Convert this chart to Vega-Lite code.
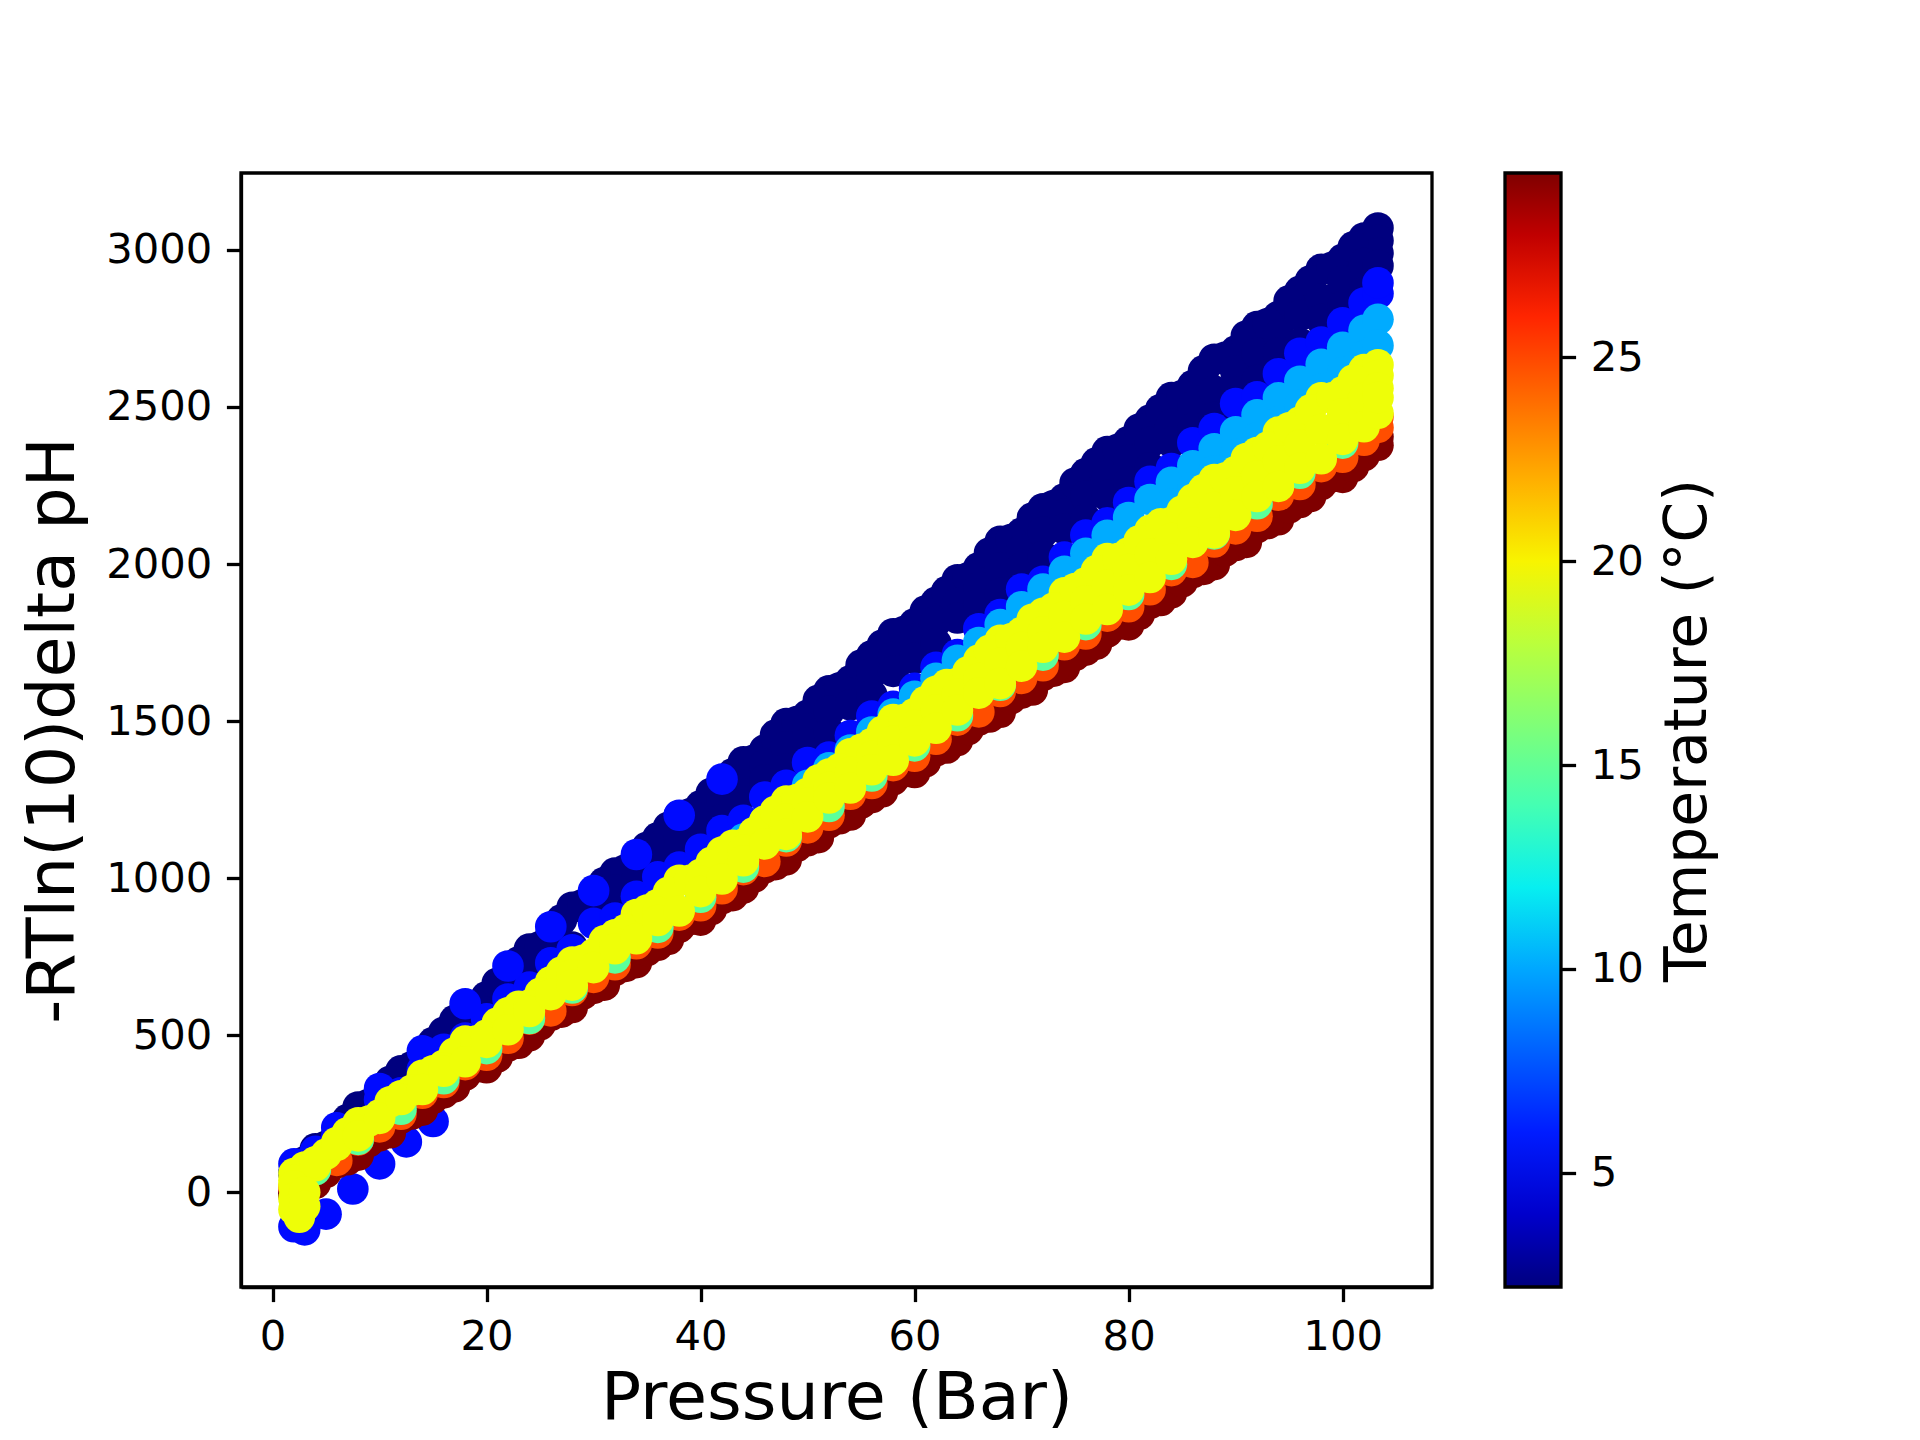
{
  "$schema": "https://vega.github.io/schema/vega-lite/v6.json",
  "background": "white",
  "autosize": {"type": "none"},
  "padding": {"left": 241, "top": 173, "right": 488, "bottom": 153},
  "width": 1191,
  "height": 1114,
  "data": {
    "values": [
      {"P":2,"V":60,"T":2.2},{"P":4,"V":138,"T":2.2},{"P":6,"V":181,"T":2.2},{"P":8,"V":271,"T":2.2},{"P":10,"V":302,"T":2.2},{"P":12,"V":386,"T":2.2},{"P":14,"V":424,"T":2.2},{"P":16,"V":509,"T":2.2},{"P":18,"V":585,"T":2.2},{"P":20,"V":622,"T":2.2},{"P":22,"V":696,"T":2.2},{"P":24,"V":774,"T":2.2},{"P":26,"V":817,"T":2.2},{"P":28,"V":907,"T":2.2},{"P":30,"V":938,"T":2.2},{"P":32,"V":1016,"T":2.2},{"P":34,"V":1048,"T":2.2},{"P":36,"V":1128,"T":2.2},{"P":38,"V":1198,"T":2.2},{"P":40,"V":1230,"T":2.2},{"P":42,"V":1298,"T":2.2},{"P":44,"V":1370,"T":2.2},{"P":46,"V":1408,"T":2.2},{"P":48,"V":1492,"T":2.2},{"P":50,"V":1518,"T":2.2},{"P":52,"V":1596,"T":2.2},{"P":54,"V":1628,"T":2.2},{"P":56,"V":1708,"T":2.2},{"P":58,"V":1778,"T":2.2},{"P":60,"V":1810,"T":2.2},{"P":62,"V":1878,"T":2.2},{"P":64,"V":1950,"T":2.2},{"P":66,"V":1988,"T":2.2},{"P":68,"V":2072,"T":2.2},{"P":70,"V":2098,"T":2.2},{"P":72,"V":2176,"T":2.2},{"P":74,"V":2208,"T":2.2},{"P":76,"V":2288,"T":2.2},{"P":78,"V":2358,"T":2.2},{"P":80,"V":2390,"T":2.2},{"P":82,"V":2458,"T":2.2},{"P":84,"V":2530,"T":2.2},{"P":86,"V":2568,"T":2.2},{"P":88,"V":2652,"T":2.2},{"P":90,"V":2678,"T":2.2},{"P":92,"V":2756,"T":2.2},{"P":94,"V":2788,"T":2.2},{"P":96,"V":2868,"T":2.2},{"P":98,"V":2938,"T":2.2},{"P":100,"V":2970,"T":2.2},{"P":102,"V":3038,"T":2.2},{"P":103.3,"V":3070,"T":2.2},{"P":103.3,"V":3030,"T":2.2},{"P":103.3,"V":2990,"T":2.2},
      {"P":3,"V":97,"T":2.2},{"P":5,"V":146,"T":2.2},{"P":7,"V":231,"T":2.2},{"P":9,"V":280,"T":2.2},{"P":11,"V":353,"T":2.2},{"P":13,"V":399,"T":2.2},{"P":15,"V":476,"T":2.2},{"P":17,"V":546,"T":2.2},{"P":19,"V":595,"T":2.2},{"P":21,"V":665,"T":2.2},{"P":23,"V":733,"T":2.2},{"P":25,"V":782,"T":2.2},{"P":27,"V":867,"T":2.2},{"P":29,"V":916,"T":2.2},{"P":31,"V":986,"T":2.2},{"P":33,"V":1026,"T":2.2},{"P":35,"V":1098,"T":2.2},{"P":37,"V":1162,"T":2.2},{"P":39,"V":1205,"T":2.2},{"P":41,"V":1270,"T":2.2},{"P":43,"V":1332,"T":2.2},{"P":45,"V":1376,"T":2.2},{"P":47,"V":1455,"T":2.2},{"P":49,"V":1498,"T":2.2},{"P":51,"V":1566,"T":2.2},{"P":53,"V":1606,"T":2.2},{"P":55,"V":1678,"T":2.2},{"P":57,"V":1742,"T":2.2},{"P":59,"V":1785,"T":2.2},{"P":61,"V":1850,"T":2.2},{"P":63,"V":1912,"T":2.2},{"P":65,"V":1956,"T":2.2},{"P":67,"V":2035,"T":2.2},{"P":69,"V":2078,"T":2.2},{"P":71,"V":2146,"T":2.2},{"P":73,"V":2186,"T":2.2},{"P":75,"V":2258,"T":2.2},{"P":77,"V":2322,"T":2.2},{"P":79,"V":2365,"T":2.2},{"P":81,"V":2430,"T":2.2},{"P":83,"V":2492,"T":2.2},{"P":85,"V":2536,"T":2.2},{"P":87,"V":2615,"T":2.2},{"P":89,"V":2658,"T":2.2},{"P":91,"V":2726,"T":2.2},{"P":93,"V":2766,"T":2.2},{"P":95,"V":2838,"T":2.2},{"P":97,"V":2902,"T":2.2},{"P":99,"V":2945,"T":2.2},{"P":101,"V":3010,"T":2.2},
      {"P":30,"V":905,"T":2.2},{"P":32,"V":962,"T":2.2},{"P":34,"V":1025,"T":2.2},{"P":36,"V":1076,"T":2.2},{"P":38,"V":1133,"T":2.2},{"P":40,"V":1190,"T":2.2},{"P":42,"V":1247,"T":2.2},{"P":44,"V":1296,"T":2.2},{"P":46,"V":1361,"T":2.2},{"P":48,"V":1418,"T":2.2},{"P":50,"V":1475,"T":2.2},{"P":52,"V":1532,"T":2.2},{"P":54,"V":1589,"T":2.2},{"P":56,"V":1652,"T":2.2},{"P":58,"V":1703,"T":2.2},{"P":60,"V":1760,"T":2.2},{"P":62,"V":1817,"T":2.2},{"P":64,"V":1874,"T":2.2},{"P":66,"V":1925,"T":2.2},{"P":68,"V":1988,"T":2.2},{"P":70,"V":2045,"T":2.2},{"P":72,"V":2102,"T":2.2},{"P":74,"V":2159,"T":2.2},{"P":76,"V":2216,"T":2.2},{"P":78,"V":2280,"T":2.2},{"P":80,"V":2330,"T":2.2},{"P":82,"V":2387,"T":2.2},{"P":84,"V":2444,"T":2.2},{"P":86,"V":2501,"T":2.2},{"P":88,"V":2551,"T":2.2},{"P":90,"V":2615,"T":2.2},{"P":92,"V":2672,"T":2.2},{"P":94,"V":2729,"T":2.2},{"P":96,"V":2792,"T":2.2},{"P":98,"V":2843,"T":2.2},{"P":100,"V":2900,"T":2.2},{"P":102,"V":2957,"T":2.2},
      {"P":2,"V":-10,"T":2.2},{"P":4,"V":77,"T":2.2},{"P":6,"V":127,"T":2.2},{"P":8,"V":166,"T":2.2},{"P":10,"V":254,"T":2.2},{"P":12,"V":295,"T":2.2},{"P":14,"V":388,"T":2.2},{"P":16,"V":424,"T":2.2},{"P":18,"V":505,"T":2.2},{"P":20,"V":553,"T":2.2},{"P":22,"V":604,"T":2.2},{"P":24,"V":691,"T":2.2},{"P":26,"V":741,"T":2.2},{"P":28,"V":780,"T":2.2},{"P":30,"V":868,"T":2.2},{"P":32,"V":904,"T":2.2},{"P":34,"V":992,"T":2.2},{"P":36,"V":1022,"T":2.2},{"P":38,"V":1098,"T":2.2},{"P":40,"V":1140,"T":2.2},{"P":42,"V":1186,"T":2.2},{"P":44,"V":1268,"T":2.2},{"P":46,"V":1312,"T":2.2},{"P":48,"V":1346,"T":2.2},{"P":50,"V":1428,"T":2.2},{"P":52,"V":1464,"T":2.2},{"P":54,"V":1552,"T":2.2},{"P":56,"V":1582,"T":2.2},{"P":58,"V":1658,"T":2.2},{"P":60,"V":1700,"T":2.2},{"P":62,"V":1746,"T":2.2},{"P":64,"V":1828,"T":2.2},{"P":66,"V":1872,"T":2.2},{"P":68,"V":1906,"T":2.2},{"P":70,"V":1988,"T":2.2},{"P":72,"V":2024,"T":2.2},{"P":74,"V":2112,"T":2.2},{"P":76,"V":2142,"T":2.2},{"P":78,"V":2218,"T":2.2},{"P":80,"V":2260,"T":2.2},{"P":82,"V":2306,"T":2.2},{"P":84,"V":2388,"T":2.2},{"P":86,"V":2432,"T":2.2},{"P":88,"V":2466,"T":2.2},{"P":90,"V":2548,"T":2.2},{"P":92,"V":2584,"T":2.2},{"P":94,"V":2672,"T":2.2},{"P":96,"V":2702,"T":2.2},{"P":98,"V":2778,"T":2.2},{"P":100,"V":2820,"T":2.2},{"P":102,"V":2866,"T":2.2},{"P":103.3,"V":2950,"T":2.2},
      {"P":2,"V":61,"T":5.5},{"P":4,"V":99,"T":5.5},{"P":6,"V":176,"T":5.5},{"P":8,"V":218,"T":5.5},{"P":10,"V":295,"T":5.5},{"P":12,"V":316,"T":5.5},{"P":14,"V":390,"T":5.5},{"P":16,"V":455,"T":5.5},{"P":18,"V":491,"T":5.5},{"P":20,"V":552,"T":5.5},{"P":22,"V":615,"T":5.5},{"P":24,"V":653,"T":5.5},{"P":26,"V":730,"T":5.5},{"P":28,"V":772,"T":5.5},{"P":30,"V":856,"T":5.5},{"P":32,"V":873,"T":5.5},{"P":34,"V":942,"T":5.5},{"P":36,"V":1004,"T":5.5},{"P":38,"V":1035,"T":5.5},{"P":40,"V":1092,"T":5.5},{"P":42,"V":1151,"T":5.5},{"P":44,"V":1184,"T":5.5},{"P":46,"V":1258,"T":5.5},{"P":48,"V":1295,"T":5.5},{"P":50,"V":1368,"T":5.5},{"P":52,"V":1385,"T":5.5},{"P":54,"V":1454,"T":5.5},{"P":56,"V":1516,"T":5.5},{"P":58,"V":1547,"T":5.5},{"P":60,"V":1604,"T":5.5},{"P":62,"V":1671,"T":5.5},{"P":64,"V":1712,"T":5.5},{"P":66,"V":1794,"T":5.5},{"P":68,"V":1839,"T":5.5},{"P":70,"V":1920,"T":5.5},{"P":72,"V":1945,"T":5.5},{"P":74,"V":2022,"T":5.5},{"P":76,"V":2092,"T":5.5},{"P":78,"V":2131,"T":5.5},{"P":80,"V":2196,"T":5.5},{"P":82,"V":2263,"T":5.5},{"P":84,"V":2304,"T":5.5},{"P":86,"V":2386,"T":5.5},{"P":88,"V":2431,"T":5.5},{"P":90,"V":2511,"T":5.5},{"P":92,"V":2532,"T":5.5},{"P":94,"V":2606,"T":5.5},{"P":96,"V":2671,"T":5.5},{"P":98,"V":2707,"T":5.5},{"P":100,"V":2768,"T":5.5},{"P":102,"V":2831,"T":5.5},{"P":103.3,"V":2861,"T":5.5},{"P":103.3,"V":2895,"T":5.5},
      {"P":2,"V":90,"T":5.5},{"P":4,"V":130,"T":5.5},{"P":6,"V":205,"T":5.5},{"P":10,"V":330,"T":5.5},{"P":14,"V":450,"T":5.5},{"P":18,"V":600,"T":5.5},{"P":22,"V":720,"T":5.5},{"P":26,"V":845,"T":5.5},{"P":30,"V":960,"T":5.5},{"P":34,"V":1075,"T":5.5},{"P":38,"V":1200,"T":5.5},{"P":42,"V":1315,"T":5.5},
      {"P":2,"V":-110,"T":5.5},{"P":3,"V":-120,"T":5.5},{"P":5,"V":-70,"T":5.5},{"P":7.5,"V":10,"T":5.5},{"P":10,"V":90,"T":5.5},{"P":12.5,"V":160,"T":5.5},{"P":15,"V":225,"T":5.5},
      {"P":40,"V":1010,"T":10.1},{"P":42,"V":1067,"T":10.1},{"P":44,"V":1124,"T":10.1},{"P":46,"V":1181,"T":10.1},{"P":48,"V":1238,"T":10.1},{"P":50,"V":1295,"T":10.1},{"P":52,"V":1351,"T":10.1},{"P":54,"V":1408,"T":10.1},{"P":56,"V":1465,"T":10.1},{"P":58,"V":1522,"T":10.1},{"P":60,"V":1579,"T":10.1},{"P":62,"V":1636,"T":10.1},{"P":64,"V":1693,"T":10.1},{"P":66,"V":1750,"T":10.1},{"P":68,"V":1807,"T":10.1},{"P":70,"V":1864,"T":10.1},{"P":72,"V":1920,"T":10.1},{"P":74,"V":1977,"T":10.1},{"P":76,"V":2034,"T":10.1},{"P":78,"V":2091,"T":10.1},{"P":80,"V":2148,"T":10.1},{"P":82,"V":2205,"T":10.1},{"P":84,"V":2260,"T":10.1},{"P":86,"V":2313,"T":10.1},{"P":88,"V":2367,"T":10.1},{"P":90,"V":2421,"T":10.1},{"P":92,"V":2475,"T":10.1},{"P":94,"V":2529,"T":10.1},{"P":96,"V":2582,"T":10.1},{"P":98,"V":2636,"T":10.1},{"P":100,"V":2690,"T":10.1},{"P":102,"V":2744,"T":10.1},{"P":103.3,"V":2779,"T":10.1},
      {"P":40,"V":950,"T":10.1},{"P":44,"V":1064,"T":10.1},{"P":48,"V":1178,"T":10.1},{"P":52,"V":1291,"T":10.1},{"P":56,"V":1405,"T":10.1},{"P":60,"V":1519,"T":10.1},{"P":64,"V":1633,"T":10.1},{"P":68,"V":1747,"T":10.1},{"P":72,"V":1860,"T":10.1},{"P":76,"V":1974,"T":10.1},{"P":80,"V":2088,"T":10.1},{"P":84,"V":2192,"T":10.1},{"P":86,"V":2245,"T":10.1},{"P":88,"V":2297,"T":10.1},{"P":90,"V":2349,"T":10.1},{"P":92,"V":2401,"T":10.1},{"P":94,"V":2453,"T":10.1},{"P":96,"V":2506,"T":10.1},{"P":98,"V":2558,"T":10.1},{"P":100,"V":2610,"T":10.1},{"P":102,"V":2662,"T":10.1},{"P":103.3,"V":2696,"T":10.1},
      {"P":2,"V":-5,"T":29.52},{"P":4,"V":28,"T":29.52},{"P":6,"V":93,"T":29.52},{"P":8,"V":118,"T":29.52},{"P":10,"V":179,"T":29.52},{"P":12,"V":236,"T":29.52},{"P":14,"V":261,"T":29.52},{"P":16,"V":316,"T":29.52},{"P":18,"V":373,"T":29.52},{"P":20,"V":396,"T":29.52},{"P":22,"V":465,"T":29.52},{"P":24,"V":498,"T":29.52},{"P":26,"V":563,"T":29.52},{"P":28,"V":588,"T":29.52},{"P":30,"V":649,"T":29.52},{"P":32,"V":706,"T":29.52},{"P":34,"V":731,"T":29.52},{"P":36,"V":786,"T":29.52},{"P":38,"V":843,"T":29.52},{"P":40,"V":866,"T":29.52},{"P":42,"V":935,"T":29.52},{"P":44,"V":968,"T":29.52},{"P":46,"V":1033,"T":29.52},{"P":48,"V":1058,"T":29.52},{"P":50,"V":1119,"T":29.52},{"P":52,"V":1176,"T":29.52},{"P":54,"V":1201,"T":29.52},{"P":56,"V":1256,"T":29.52},{"P":58,"V":1313,"T":29.52},{"P":60,"V":1336,"T":29.52},{"P":62,"V":1405,"T":29.52},{"P":64,"V":1438,"T":29.52},{"P":66,"V":1503,"T":29.52},{"P":68,"V":1528,"T":29.52},{"P":70,"V":1589,"T":29.52},{"P":72,"V":1646,"T":29.52},{"P":74,"V":1671,"T":29.52},{"P":76,"V":1726,"T":29.52},{"P":78,"V":1783,"T":29.52},{"P":80,"V":1806,"T":29.52},{"P":82,"V":1875,"T":29.52},{"P":84,"V":1908,"T":29.52},{"P":86,"V":1973,"T":29.52},{"P":88,"V":1998,"T":29.52},{"P":90,"V":2059,"T":29.52},{"P":92,"V":2116,"T":29.52},{"P":94,"V":2141,"T":29.52},{"P":96,"V":2196,"T":29.52},{"P":98,"V":2253,"T":29.52},{"P":100,"V":2276,"T":29.52},{"P":102,"V":2345,"T":29.52},{"P":103.3,"V":2378,"T":29.52},{"P":103.3,"V":2405,"T":29.52},
      {"P":3,"V":4,"T":29.52},{"P":5,"V":63,"T":29.52},{"P":7,"V":103,"T":29.52},{"P":9,"V":161,"T":29.52},{"P":11,"V":189,"T":29.52},{"P":13,"V":249,"T":29.52},{"P":15,"V":299,"T":29.52},{"P":17,"V":335,"T":29.52},{"P":19,"V":398,"T":29.52},{"P":21,"V":430,"T":29.52},{"P":23,"V":474,"T":29.52},{"P":25,"V":533,"T":29.52},{"P":27,"V":573,"T":29.52},{"P":29,"V":631,"T":29.52},{"P":31,"V":659,"T":29.52},{"P":33,"V":719,"T":29.52},{"P":35,"V":769,"T":29.52},{"P":37,"V":805,"T":29.52},{"P":39,"V":868,"T":29.52},{"P":41,"V":900,"T":29.52},{"P":43,"V":944,"T":29.52},{"P":45,"V":1003,"T":29.52},{"P":47,"V":1043,"T":29.52},{"P":49,"V":1101,"T":29.52},{"P":51,"V":1129,"T":29.52},{"P":53,"V":1189,"T":29.52},{"P":55,"V":1239,"T":29.52},{"P":57,"V":1275,"T":29.52},{"P":59,"V":1338,"T":29.52},{"P":61,"V":1370,"T":29.52},{"P":63,"V":1414,"T":29.52},{"P":65,"V":1473,"T":29.52},{"P":67,"V":1513,"T":29.52},{"P":69,"V":1571,"T":29.52},{"P":71,"V":1599,"T":29.52},{"P":73,"V":1659,"T":29.52},{"P":75,"V":1709,"T":29.52},{"P":77,"V":1745,"T":29.52},{"P":79,"V":1808,"T":29.52},{"P":81,"V":1840,"T":29.52},{"P":83,"V":1884,"T":29.52},{"P":85,"V":1943,"T":29.52},{"P":87,"V":1983,"T":29.52},{"P":89,"V":2041,"T":29.52},{"P":91,"V":2069,"T":29.52},{"P":93,"V":2129,"T":29.52},{"P":95,"V":2179,"T":29.52},{"P":97,"V":2215,"T":29.52},{"P":99,"V":2278,"T":29.52},{"P":101,"V":2310,"T":29.52},
      {"P":2,"V":14,"T":24.8},{"P":4,"V":75,"T":24.8},{"P":6,"V":101,"T":24.8},{"P":8,"V":166,"T":24.8},{"P":10,"V":208,"T":24.8},{"P":12,"V":248,"T":24.8},{"P":14,"V":315,"T":24.8},{"P":16,"V":349,"T":24.8},{"P":18,"V":406,"T":24.8},{"P":20,"V":436,"T":24.8},{"P":22,"V":490,"T":24.8},{"P":24,"V":551,"T":24.8},{"P":26,"V":577,"T":24.8},{"P":28,"V":642,"T":24.8},{"P":30,"V":684,"T":24.8},{"P":32,"V":724,"T":24.8},{"P":34,"V":791,"T":24.8},{"P":36,"V":825,"T":24.8},{"P":38,"V":882,"T":24.8},{"P":40,"V":912,"T":24.8},{"P":42,"V":966,"T":24.8},{"P":44,"V":1027,"T":24.8},{"P":46,"V":1053,"T":24.8},{"P":48,"V":1118,"T":24.8},{"P":50,"V":1160,"T":24.8},{"P":52,"V":1200,"T":24.8},{"P":54,"V":1267,"T":24.8},{"P":56,"V":1301,"T":24.8},{"P":58,"V":1358,"T":24.8},{"P":60,"V":1388,"T":24.8},{"P":62,"V":1442,"T":24.8},{"P":64,"V":1503,"T":24.8},{"P":66,"V":1529,"T":24.8},{"P":68,"V":1594,"T":24.8},{"P":70,"V":1636,"T":24.8},{"P":72,"V":1676,"T":24.8},{"P":74,"V":1743,"T":24.8},{"P":76,"V":1777,"T":24.8},{"P":78,"V":1834,"T":24.8},{"P":80,"V":1864,"T":24.8},{"P":82,"V":1918,"T":24.8},{"P":84,"V":1979,"T":24.8},{"P":86,"V":2005,"T":24.8},{"P":88,"V":2070,"T":24.8},{"P":90,"V":2112,"T":24.8},{"P":92,"V":2152,"T":24.8},{"P":94,"V":2219,"T":24.8},{"P":96,"V":2253,"T":24.8},{"P":98,"V":2310,"T":24.8},{"P":100,"V":2340,"T":24.8},{"P":102,"V":2394,"T":24.8},{"P":103.3,"V":2435,"T":24.8},{"P":103.3,"V":2470,"T":24.8},
      {"P":4,"V":71,"T":14.8},{"P":8,"V":168,"T":14.8},{"P":12,"V":264,"T":14.8},{"P":16,"V":361,"T":14.8},{"P":20,"V":457,"T":14.8},{"P":24,"V":553,"T":14.8},{"P":28,"V":650,"T":14.8},{"P":32,"V":746,"T":14.8},{"P":36,"V":843,"T":14.8},{"P":40,"V":939,"T":14.8},{"P":44,"V":1035,"T":14.8},{"P":48,"V":1132,"T":14.8},{"P":52,"V":1228,"T":14.8},{"P":56,"V":1325,"T":14.8},{"P":60,"V":1421,"T":14.8},{"P":64,"V":1517,"T":14.8},{"P":68,"V":1614,"T":14.8},{"P":72,"V":1710,"T":14.8},{"P":76,"V":1807,"T":14.8},{"P":80,"V":1903,"T":14.8},{"P":84,"V":1999,"T":14.8},{"P":88,"V":2096,"T":14.8},{"P":92,"V":2192,"T":14.8},{"P":96,"V":2289,"T":14.8},{"P":100,"V":2385,"T":14.8},
      {"P":2,"V":59,"T":19.7},{"P":4,"V":84,"T":19.7},{"P":6,"V":158,"T":19.7},{"P":8,"V":221,"T":19.7},{"P":10,"V":246,"T":19.7},{"P":12,"V":307,"T":19.7},{"P":14,"V":372,"T":19.7},{"P":16,"V":404,"T":19.7},{"P":18,"V":481,"T":19.7},{"P":20,"V":500,"T":19.7},{"P":22,"V":571,"T":19.7},{"P":24,"V":596,"T":19.7},{"P":26,"V":670,"T":19.7},{"P":28,"V":733,"T":19.7},{"P":30,"V":758,"T":19.7},{"P":32,"V":819,"T":19.7},{"P":34,"V":884,"T":19.7},{"P":36,"V":916,"T":19.7},{"P":38,"V":993,"T":19.7},{"P":40,"V":1012,"T":19.7},{"P":42,"V":1083,"T":19.7},{"P":44,"V":1108,"T":19.7},{"P":46,"V":1182,"T":19.7},{"P":48,"V":1245,"T":19.7},{"P":50,"V":1270,"T":19.7},{"P":52,"V":1331,"T":19.7},{"P":54,"V":1396,"T":19.7},{"P":56,"V":1428,"T":19.7},{"P":58,"V":1505,"T":19.7},{"P":60,"V":1524,"T":19.7},{"P":62,"V":1595,"T":19.7},{"P":64,"V":1620,"T":19.7},{"P":66,"V":1694,"T":19.7},{"P":68,"V":1757,"T":19.7},{"P":70,"V":1782,"T":19.7},{"P":72,"V":1843,"T":19.7},{"P":74,"V":1908,"T":19.7},{"P":76,"V":1940,"T":19.7},{"P":78,"V":2017,"T":19.7},{"P":80,"V":2036,"T":19.7},{"P":82,"V":2107,"T":19.7},{"P":84,"V":2132,"T":19.7},{"P":86,"V":2206,"T":19.7},{"P":88,"V":2269,"T":19.7},{"P":90,"V":2294,"T":19.7},{"P":92,"V":2355,"T":19.7},{"P":94,"V":2420,"T":19.7},{"P":96,"V":2452,"T":19.7},{"P":98,"V":2529,"T":19.7},{"P":100,"V":2548,"T":19.7},{"P":102,"V":2619,"T":19.7},{"P":103.3,"V":2634,"T":19.7},{"P":103.3,"V":2600,"T":19.7},
      {"P":3,"V":80,"T":19.7},{"P":5,"V":121,"T":19.7},{"P":7,"V":189,"T":19.7},{"P":9,"V":226,"T":19.7},{"P":11,"V":288,"T":19.7},{"P":13,"V":324,"T":19.7},{"P":15,"V":386,"T":19.7},{"P":17,"V":443,"T":19.7},{"P":19,"V":481,"T":19.7},{"P":21,"V":538,"T":19.7},{"P":23,"V":592,"T":19.7},{"P":25,"V":633,"T":19.7},{"P":27,"V":701,"T":19.7},{"P":29,"V":738,"T":19.7},{"P":31,"V":800,"T":19.7},{"P":33,"V":836,"T":19.7},{"P":35,"V":898,"T":19.7},{"P":37,"V":955,"T":19.7},{"P":39,"V":993,"T":19.7},{"P":41,"V":1050,"T":19.7},{"P":43,"V":1104,"T":19.7},{"P":45,"V":1145,"T":19.7},{"P":47,"V":1213,"T":19.7},{"P":49,"V":1250,"T":19.7},{"P":51,"V":1312,"T":19.7},{"P":53,"V":1348,"T":19.7},{"P":55,"V":1410,"T":19.7},{"P":57,"V":1467,"T":19.7},{"P":59,"V":1505,"T":19.7},{"P":61,"V":1562,"T":19.7},{"P":63,"V":1616,"T":19.7},{"P":65,"V":1657,"T":19.7},{"P":67,"V":1725,"T":19.7},{"P":69,"V":1762,"T":19.7},{"P":71,"V":1824,"T":19.7},{"P":73,"V":1860,"T":19.7},{"P":75,"V":1922,"T":19.7},{"P":77,"V":1979,"T":19.7},{"P":79,"V":2017,"T":19.7},{"P":81,"V":2074,"T":19.7},{"P":83,"V":2128,"T":19.7},{"P":85,"V":2169,"T":19.7},{"P":87,"V":2237,"T":19.7},{"P":89,"V":2274,"T":19.7},{"P":91,"V":2336,"T":19.7},{"P":93,"V":2372,"T":19.7},{"P":95,"V":2434,"T":19.7},{"P":97,"V":2491,"T":19.7},{"P":99,"V":2529,"T":19.7},{"P":101,"V":2586,"T":19.7},
      {"P":4,"V":97,"T":19.7},{"P":8,"V":196,"T":19.7},{"P":12,"V":296,"T":19.7},{"P":16,"V":395,"T":19.7},{"P":20,"V":494,"T":19.7},{"P":24,"V":593,"T":19.7},{"P":28,"V":692,"T":19.7},{"P":32,"V":792,"T":19.7},{"P":36,"V":891,"T":19.7},{"P":40,"V":990,"T":19.7},{"P":44,"V":1089,"T":19.7},{"P":48,"V":1188,"T":19.7},{"P":50,"V":1238,"T":19.7},{"P":52,"V":1288,"T":19.7},{"P":54,"V":1337,"T":19.7},{"P":56,"V":1387,"T":19.7},{"P":58,"V":1436,"T":19.7},{"P":60,"V":1486,"T":19.7},{"P":62,"V":1536,"T":19.7},{"P":64,"V":1585,"T":19.7},{"P":66,"V":1635,"T":19.7},{"P":68,"V":1684,"T":19.7},{"P":70,"V":1734,"T":19.7},{"P":72,"V":1784,"T":19.7},{"P":74,"V":1833,"T":19.7},{"P":76,"V":1883,"T":19.7},{"P":78,"V":1932,"T":19.7},{"P":80,"V":1982,"T":19.7},{"P":82,"V":2032,"T":19.7},{"P":84,"V":2081,"T":19.7},{"P":86,"V":2131,"T":19.7},{"P":88,"V":2180,"T":19.7},{"P":90,"V":2230,"T":19.7},{"P":92,"V":2280,"T":19.7},{"P":94,"V":2329,"T":19.7},{"P":96,"V":2379,"T":19.7},{"P":98,"V":2428,"T":19.7},{"P":100,"V":2478,"T":19.7},{"P":102,"V":2528,"T":19.7},{"P":103.3,"V":2560,"T":19.7},
      {"P":2,"V":37,"T":19.7},{"P":4,"V":95,"T":19.7},{"P":6,"V":149,"T":19.7},{"P":8,"V":179,"T":19.7},{"P":10,"V":235,"T":19.7},{"P":12,"V":295,"T":19.7},{"P":14,"V":327,"T":19.7},{"P":16,"V":385,"T":19.7},{"P":18,"V":415,"T":19.7},{"P":20,"V":477,"T":19.7},{"P":22,"V":517,"T":19.7},{"P":24,"V":575,"T":19.7},{"P":26,"V":629,"T":19.7},{"P":28,"V":659,"T":19.7},{"P":30,"V":715,"T":19.7},{"P":32,"V":775,"T":19.7},{"P":34,"V":807,"T":19.7},{"P":36,"V":865,"T":19.7},{"P":38,"V":895,"T":19.7},{"P":40,"V":957,"T":19.7},{"P":42,"V":997,"T":19.7},{"P":44,"V":1055,"T":19.7},{"P":46,"V":1109,"T":19.7},{"P":48,"V":1139,"T":19.7},{"P":50,"V":1195,"T":19.7},{"P":52,"V":1255,"T":19.7},{"P":54,"V":1287,"T":19.7},{"P":56,"V":1345,"T":19.7},{"P":58,"V":1375,"T":19.7},{"P":60,"V":1437,"T":19.7},{"P":62,"V":1477,"T":19.7},{"P":64,"V":1535,"T":19.7},{"P":66,"V":1589,"T":19.7},{"P":68,"V":1619,"T":19.7},{"P":70,"V":1675,"T":19.7},{"P":72,"V":1735,"T":19.7},{"P":74,"V":1767,"T":19.7},{"P":76,"V":1825,"T":19.7},{"P":78,"V":1855,"T":19.7},{"P":80,"V":1917,"T":19.7},{"P":82,"V":1957,"T":19.7},{"P":84,"V":2015,"T":19.7},{"P":86,"V":2069,"T":19.7},{"P":88,"V":2099,"T":19.7},{"P":90,"V":2155,"T":19.7},{"P":92,"V":2215,"T":19.7},{"P":94,"V":2247,"T":19.7},{"P":96,"V":2305,"T":19.7},{"P":98,"V":2335,"T":19.7},{"P":100,"V":2397,"T":19.7},{"P":102,"V":2437,"T":19.7},{"P":103.3,"V":2480,"T":19.7},{"P":103.3,"V":2530,"T":19.7},
      {"P":2,"V":20,"T":19.7},{"P":2,"V":-20,"T":19.7},{"P":2,"V":-55,"T":19.7},{"P":2.5,"V":-80,"T":19.7},{"P":3,"V":0,"T":19.7},{"P":3,"V":-45,"T":19.7}
    ]
  },
  "layer": [
    {
      "mark": {"type": "circle", "size": 1000, "opacity": 1},
      "encoding": {
        "x": {
          "field": "P",
          "type": "quantitative",
          "scale": {"domain": [-2.95, 108.35], "nice": false, "zero": false},
          "axis": {"title": "Pressure (Bar)", "values": [0, 20, 40, 60, 80, 100], "labelFlush": false, "titlePadding": 8}
        },
        "y": {
          "field": "V",
          "type": "quantitative",
          "scale": {"domain": [-302, 3245], "nice": false, "zero": false},
          "axis": {"title": "-RTln(10)delta pH", "values": [0, 500, 1000, 1500, 2000, 2500, 3000], "format": "d", "labelFlush": false, "titlePadding": 18}
        },
        "color": {
          "field": "T",
          "type": "quantitative",
          "scale": {
            "domain": [2.2, 5.205, 11.489, 11.762, 12.445, 19.685, 19.958, 20.231, 26.515, 27.061, 29.52],
            "range": ["#00007f", "#0000ff", "#00dbff", "#00e6f7", "#15ffe2", "#eeff08", "#f7f500", "#ffec00", "#ff1300", "#e80000", "#7f0000"],
            "interpolate": "rgb"
          },
          "legend": {
            "title": null,
            "orient": "none",
            "legendX": 1264,
            "legendY": 0,
            "direction": "vertical",
            "gradientLength": 1114,
            "gradientThickness": 56,
            "gradientStrokeColor": "black",
            "gradientStrokeWidth": 3.3,
            "values": [5, 10, 15, 20, 25],
            "labelOpacity": 0,
            "padding": 0
          }
        }
      }
    },
    {
      "mark": {"type": "point", "opacity": 0},
      "encoding": {
        "x": {"field": "P", "type": "quantitative"},
        "y": {
          "field": "T",
          "type": "quantitative",
          "scale": {"domain": [2.2, 29.52], "nice": false, "zero": false},
          "axis": {
            "orient": "right",
            "offset": 129,
            "domain": false,
            "values": [5, 10, 15, 20, 25],
            "title": "Temperature (°C)",
            "titleAngle": 270,
            "titleBaseline": "top",
            "titleFontSize": 58.3,
            "titlePadding": 16
          }
        }
      }
    }
  ],
  "resolve": {"scale": {"y": "independent", "color": "independent"}, "axis": {"y": "independent"}},
  "config": {
    "view": {"stroke": "black", "strokeWidth": 3.3},
    "axis": {
      "grid": false,
      "domainColor": "black",
      "domainWidth": 3.3,
      "tickColor": "black",
      "tickWidth": 3.3,
      "tickSize": 14.6,
      "labelPadding": 14.6,
      "labelFont": "DejaVu Sans",
      "labelFontSize": 41.7,
      "labelColor": "black",
      "titleFont": "DejaVu Sans",
      "titleFontSize": 66.7,
      "titleFontWeight": "normal",
      "titleColor": "black"
    }
  }
}
